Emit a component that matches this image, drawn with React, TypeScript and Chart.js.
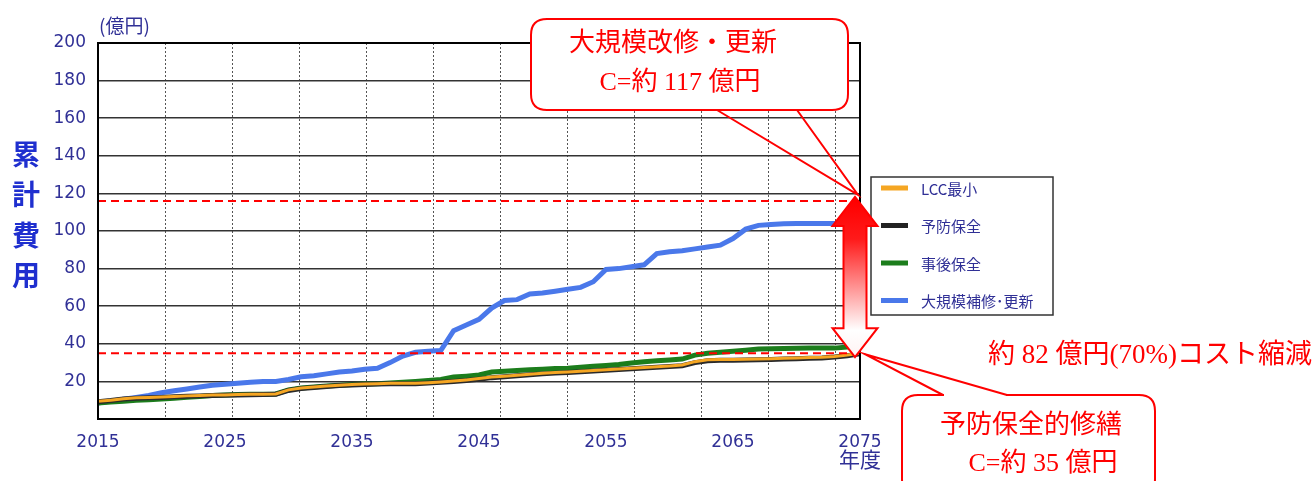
import React, { useRef, useEffect } from 'react';
import Chart from 'chart.js/auto';

// fiscal years on the x axis
const years = [
  2015, 2016, 2017, 2018, 2019, 2020, 2021, 2022, 2023, 2024,
  2025, 2026, 2027, 2028, 2029, 2030, 2031, 2032, 2033, 2034,
  2035, 2036, 2037, 2038, 2039, 2040, 2041, 2042, 2043, 2044,
  2045, 2046, 2047, 2048, 2049, 2050, 2051, 2052, 2053, 2054,
  2055, 2056, 2057, 2058, 2059, 2060, 2061, 2062, 2063, 2064,
  2065, 2066, 2067, 2068, 2069, 2070, 2071, 2072, 2073, 2074,
  2075,
];

// cumulative cost (億円)
const lccMin = [
  9.5, 10, 10.8, 11.3, 11.5, 11.7, 12, 12.3, 12.5, 12.7,
  12.8, 13, 13.1, 13.2, 13.3, 15.5, 16.5, 17, 17.5, 18,
  18.3, 18.6, 18.8, 19, 19, 19, 19.3, 19.7, 20.2, 20.8,
  21.5, 22.3, 22.8, 23.3, 23.8, 24.3, 24.7, 25, 25.4, 25.8,
  26.2, 26.6, 27, 27.4, 27.8, 28.2, 28.7, 30.5, 31.5, 31.6,
  31.7, 31.8, 31.9, 32.1, 32.3, 32.5, 32.7, 32.9, 33.3, 34,
  35,
];

const preventive = [
  9.2, 9.8, 10.6, 11.1, 11.3, 11.5, 11.8, 12.1, 12.3, 12.5,
  12.6, 12.8, 12.9, 13, 13.1, 15.2, 16.2, 16.8, 17.3, 17.8,
  18.1, 18.4, 18.6, 18.8, 18.8, 18.8, 19.1, 19.5, 20, 20.5,
  21.2, 22, 22.5, 23, 23.5, 24, 24.4, 24.7, 25.1, 25.5,
  25.9, 26.3, 26.7, 27.1, 27.5, 27.9, 28.3, 30, 31, 31.2,
  31.3, 31.4, 31.5, 31.7, 31.9, 32.1, 32.3, 32.5, 33, 33.7,
  34.7,
];

const corrective = [
  8.5, 9, 9.5, 10, 10.3, 10.6, 11, 11.5, 12, 12.5,
  12.8, 13, 13.1, 13.2, 13.3, 15.5, 16.5, 17, 17.5, 18,
  18.3, 18.6, 18.8, 19.2, 19.6, 20, 20.5, 21, 22.3, 22.8,
  23.4, 25, 25.4, 25.8, 26.2, 26.5, 26.8, 27, 27.5, 28,
  28.5, 29, 29.8, 30.4, 31, 31.4, 31.9, 34, 35, 35.5,
  36, 36.6, 37.2, 37.4, 37.5, 37.6, 37.7, 37.7, 37.7, 38.3,
  38.8,
];

const renewal = [
  8.5, 9.5, 10.5, 11.5, 12.5, 14, 15, 16, 17, 18,
  18.5, 19, 19.5, 20, 20, 21, 22.5, 23, 24, 25,
  25.5, 26.5, 27, 30, 33.5, 35.5, 36, 36.5, 47, 50,
  53, 59, 63, 63.5, 66.5, 67, 68, 69, 70, 73,
  79.5, 80, 81, 82, 88, 89, 89.5, 90.5, 91.5, 92.5,
  96, 101, 103, 103.5, 103.8, 104, 104, 104, 104, 104,
  116,
];

// red dashed reference levels
const renewalTotal = 116;
const preventiveTotal = 35;

const yTicks = [20, 40, 60, 80, 100, 120, 140, 160, 180, 200];

const legendItems = [
  { label: 'LCC最小', color: '#f5a623' },
  { label: '予防保全', color: '#222222' },
  { label: '事後保全', color: '#1c7d1c' },
  { label: '大規模補修･更新', color: '#4a78ea' },
];

const BLUE_TEXT = '#303096';
const RED = '#ff0000';
const TICK_FONT = { family: '"DejaVu Sans", sans-serif', size: 17 };

const toPoints = (vals: number[]) => vals.map((v, i) => ({ x: years[i], y: v }));

function roundRect(ctx: CanvasRenderingContext2D, x: number, y: number, w: number, h: number, r: number) {
  ctx.beginPath();
  ctx.moveTo(x + r, y);
  ctx.lineTo(x + w - r, y);
  ctx.quadraticCurveTo(x + w, y, x + w, y + r);
  ctx.lineTo(x + w, y + h - r);
  ctx.quadraticCurveTo(x + w, y + h, x + w - r, y + h);
  ctx.lineTo(x + r, y + h);
  ctx.quadraticCurveTo(x, y + h, x, y + h - r);
  ctx.lineTo(x, y + r);
  ctx.quadraticCurveTo(x, y, x + r, y);
  ctx.closePath();
}

const annotations = {
  id: 'annotations',
  afterDraw(chart: any) {
    const { ctx, chartArea, scales } = chart;
    const xs = scales.x;
    const ys = scales.y;
    ctx.save();

    // frame around the plot
    ctx.strokeStyle = '#000';
    ctx.lineWidth = 2;
    ctx.strokeRect(chartArea.left, chartArea.top, chartArea.right - chartArea.left, chartArea.bottom - chartArea.top);

    // axis titles
    ctx.fillStyle = BLUE_TEXT;
    ctx.font = '19px "Noto Sans CJK JP", sans-serif';
    ctx.textAlign = 'left';
    ctx.textBaseline = 'middle';
    ctx.fillText('(億円)', 99, 26);
    ctx.textAlign = 'center';
    ctx.font = '21px "Noto Sans CJK JP", sans-serif';
    ctx.fillText('年度', xs.getPixelForValue(2075), 459);

    ctx.fillStyle = '#1f2fcf';
    ctx.font = 'bold 28px "Noto Sans CJK JP", sans-serif';
    ['累', '計', '費', '用'].forEach((ch, i) => {
      ctx.fillText(ch, 26, 154 + i * 40.5);
    });

    // legend
    ctx.fillStyle = '#fff';
    ctx.fillRect(871, 177, 182, 138);
    ctx.strokeStyle = '#333';
    ctx.lineWidth = 1.5;
    ctx.strokeRect(871, 177, 182, 138);
    ctx.font = '15px "Noto Sans CJK JP", sans-serif';
    ctx.textAlign = 'left';
    legendItems.forEach((item, i) => {
      const y = 188 + i * 37.5;
      ctx.fillStyle = item.color;
      ctx.fillRect(881, y - 2.5, 27, 5);
      ctx.fillStyle = BLUE_TEXT;
      ctx.fillText(item.label, 921, y + 1);
    });

    const tipX = xs.getPixelForValue(2075);
    const topY = ys.getPixelForValue(renewalTotal);
    const botY = ys.getPixelForValue(preventiveTotal);

    // callout 1
    ctx.strokeStyle = RED;
    ctx.lineWidth = 2;
    ctx.beginPath();
    ctx.moveTo(717, 110);
    ctx.lineTo(tipX - 2, topY - 6);
    ctx.lineTo(797, 110);
    ctx.stroke();
    roundRect(ctx, 531, 19, 317, 91, 16);
    ctx.fillStyle = '#fff';
    ctx.fill();
    ctx.stroke();
    ctx.fillStyle = RED;
    ctx.font = '26px "Liberation Serif", "Noto Sans CJK JP", serif';
    ctx.textAlign = 'center';
    ctx.fillText('大規模改修・更新', 673, 44);
    ctx.fillText('C=約 117 億円', 680, 83);

    // callout 2
    roundRect(ctx, 902, 395, 253, 100, 16);
    ctx.fillStyle = '#fff';
    ctx.fill();
    ctx.stroke();
    ctx.fillStyle = '#fff';
    ctx.fillRect(944, 393, 62, 4);
    ctx.beginPath();
    ctx.moveTo(943, 395);
    ctx.lineTo(tipX + 5, botY + 1);
    ctx.lineTo(1007, 395);
    ctx.stroke();
    ctx.fillStyle = RED;
    ctx.fillText('予防保全的修繕', 1031, 426);
    ctx.fillText('C=約 35 億円', 1043, 464);

    ctx.textAlign = 'left';
    ctx.font = '27px "Liberation Serif", "Noto Sans CJK JP", serif';
    ctx.fillText('約 82 億円(70%)コスト縮減', 988, 356);

    // double arrow
    const cx = tipX - 5;
    const headH = 29;
    const halfHead = 22.5;
    const halfShaft = 11.5;
    const grad = ctx.createLinearGradient(0, topY, 0, botY);
    grad.addColorStop(0, '#ff0000');
    grad.addColorStop(0.25, '#ff1a1a');
    grad.addColorStop(0.85, '#ffffff');
    grad.addColorStop(1, '#fff4f4');
    ctx.beginPath();
    ctx.moveTo(cx, topY - 4);
    ctx.lineTo(cx + halfHead, topY - 4 + headH);
    ctx.lineTo(cx + halfShaft, topY - 4 + headH);
    ctx.lineTo(cx + halfShaft, botY + 4 - headH);
    ctx.lineTo(cx + halfHead, botY + 4 - headH);
    ctx.lineTo(cx, botY + 4);
    ctx.lineTo(cx - halfHead, botY + 4 - headH);
    ctx.lineTo(cx - halfShaft, botY + 4 - headH);
    ctx.lineTo(cx - halfShaft, topY - 4 + headH);
    ctx.lineTo(cx - halfHead, topY - 4 + headH);
    ctx.closePath();
    ctx.fillStyle = grad;
    ctx.fill();
    ctx.strokeStyle = RED;
    ctx.lineWidth = 2;
    ctx.stroke();

    ctx.restore();
  },
};

const App: React.FC = () => {
  const canvasRef = useRef<HTMLCanvasElement>(null);
  const chartInstance = useRef<Chart | null>(null);

  useEffect(() => {
    if (!canvasRef.current) return;
    const ctx = canvasRef.current.getContext('2d');
    if (!ctx) return;

    if (chartInstance.current) {
      chartInstance.current.destroy();
    }

    const refLine = (v: number) => [
      { x: years[0], y: v },
      { x: years[years.length - 1], y: v },
    ];

    chartInstance.current = new Chart(ctx, {
      type: 'line',
      data: {
        datasets: [
          {
            label: 'ref-upper',
            data: refLine(renewalTotal),
            borderColor: RED,
            borderWidth: 2,
            borderDash: [8, 5],
            pointRadius: 0,
            order: 0,
          },
          {
            label: 'ref-lower',
            data: refLine(preventiveTotal),
            borderColor: RED,
            borderWidth: 2,
            borderDash: [8, 5],
            pointRadius: 0,
            order: 0,
          },
          {
            label: 'LCC最小',
            data: toPoints(lccMin),
            borderColor: '#f5a623',
            borderWidth: 3,
            pointRadius: 0,
            order: 1,
          },
          {
            label: '予防保全',
            data: toPoints(preventive),
            borderColor: '#2a2a2a',
            borderWidth: 5,
            pointRadius: 0,
            order: 2,
          },
          {
            label: '事後保全',
            data: toPoints(corrective),
            borderColor: '#1c7d1c',
            borderWidth: 5,
            pointRadius: 0,
            order: 3,
          },
          {
            label: '大規模補修･更新',
            data: toPoints(renewal),
            borderColor: '#4a78ea',
            borderWidth: 5,
            pointRadius: 0,
            order: 4,
          },
        ],
      },
      options: {
        responsive: true,
        maintainAspectRatio: false,
        animation: false,
        layout: { padding: { top: 43, right: 456, bottom: 0, left: 0 } },
        plugins: {
          legend: { display: false },
          tooltip: { enabled: false },
        },
        scales: {
          x: {
            type: 'linear',
            min: 2015,
            max: 2075,
            afterFit: (scale: any) => {
              scale.height = 62;
            },
            ticks: {
              stepSize: 10,
              color: BLUE_TEXT,
              font: TICK_FONT,
              padding: 13,
              maxRotation: 0,
              callback: (v: any) => String(v),
            },
            grid: { display: false, drawTicks: false },
            border: { display: true, color: '#000', width: 2 },
          },
          x2: {
            type: 'linear',
            position: 'top',
            min: 0,
            max: 11.373,
            afterFit: (scale: any) => {
              scale.height = 0;
            },
            ticks: { display: false, stepSize: 1, includeBounds: false },
            grid: { color: '#555', lineWidth: 1, drawTicks: false },
            border: { display: false, dash: [2, 2] },
          },
          y: {
            min: 0,
            max: 200,
            afterFit: (scale: any) => {
              scale.width = 98;
            },
            afterBuildTicks: (scale: any) => {
              scale.ticks = [{ value: 0 }, ...yTicks.map((v) => ({ value: v }))];
            },
            ticks: {
              color: BLUE_TEXT,
              font: TICK_FONT,
              padding: 12,
              callback: (v: any) => (v === 0 ? '' : String(v)),
            },
            grid: { color: '#333', lineWidth: 1.5, drawTicks: false },
            border: { display: true, color: '#000', width: 2 },
          },
        },
      },
      plugins: [annotations],
    });

    return () => {
      if (chartInstance.current) {
        chartInstance.current.destroy();
        chartInstance.current = null;
      }
    };
  }, []);

  return (
    <div style={{ position: 'fixed', left: 0, top: 0, width: '1316px', height: '481px', background: '#fff' }}>
      <canvas ref={canvasRef} />
    </div>
  );
};

export default App;
